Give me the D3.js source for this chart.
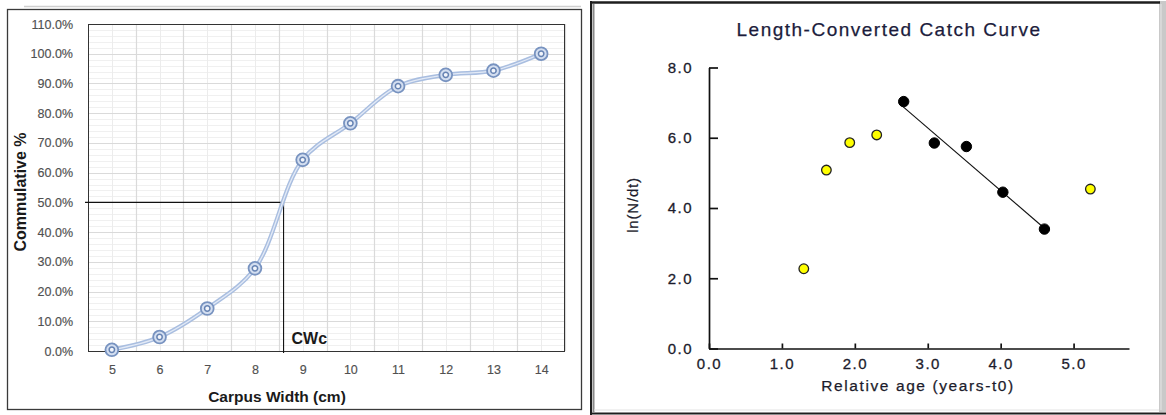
<!DOCTYPE html>
<html>
<head>
<meta charset="utf-8">
<script src="https://cdn.jsdelivr.net/npm/d3@7"></script>
<style>
  body { margin: 0; background: #fff; }
  svg { display: block; }
</style>
</head>
<body>
<svg width="1166" height="415"></svg>
<script>
// left chart: cumulative % by carpus width
let carpusWidths = [5, 6, 7, 8, 9, 10, 11, 12, 13, 14];
let cumulativePct = [0.004, 0.047, 0.143, 0.278, 0.643, 0.766, 0.891, 0.929, 0.943, 1.0];
let cwcValue = 8.6;
let leftYTicks = [0, 0.1, 0.2, 0.3, 0.4, 0.5, 0.6, 0.7, 0.8, 0.9, 1.0, 1.1];

// right chart: length-converted catch curve
let excludedAge = [1.30, 1.61, 1.93, 2.30, 5.23];
let excludedLnN = [2.27, 5.08, 5.86, 6.08, 4.54];
let usedAge = [2.67, 3.09, 3.53, 4.03, 4.60];
let usedLnN = [7.03, 5.85, 5.75, 4.45, 3.40];
let fitAge = [2.64, 4.58];
let fitLnN = [6.92, 3.46];
let rightXTicks = [0, 1, 2, 3, 4, 5];
let rightYTicks = [0, 2, 4, 6, 8];

let svg = d3.select("svg");

// ---------- frames ----------
function drawFrames() {
    let g = svg.append("g");
    // left panel
    g.append("line").attr("x1", 24).attr("x2", 581).attr("y1", 6.5).attr("y2", 6.5)
        .attr("stroke", "#cfcfcf").attr("stroke-width", 1.5);
    g.append("rect").attr("x", 7.5).attr("y", 9.5).attr("width", 574).attr("height", 400)
        .attr("fill", "#fff").attr("stroke", "#3a3a3a").attr("stroke-width", 1.3);

    // right panel
    g.append("rect").attr("x", 1159).attr("y", 1).attr("width", 7).attr("height", 411).attr("fill", "#c9c9c9");
    g.append("line").attr("x1", 1161).attr("x2", 1161).attr("y1", 4).attr("y2", 410)
        .attr("stroke", "#e6e6e6").attr("stroke-width", 1);
    g.append("line").attr("x1", 590).attr("x2", 1160).attr("y1", 2.5).attr("y2", 2.5)
        .attr("stroke", "#1e1e1e").attr("stroke-width", 2.5);
    g.append("line").attr("x1", 591).attr("x2", 591).attr("y1", 1).attr("y2", 415)
        .attr("stroke", "#1e1e1e").attr("stroke-width", 2);
    g.append("line").attr("x1", 593.5).attr("x2", 593.5).attr("y1", 4).attr("y2", 412)
        .attr("stroke", "#8a8a8a").attr("stroke-width", 2);
    g.append("line").attr("x1", 594).attr("x2", 1159).attr("y1", 410).attr("y2", 410)
        .attr("stroke", "#e2e2e2").attr("stroke-width", 1);
    g.append("line").attr("x1", 590).attr("x2", 1166).attr("y1", 413.5).attr("y2", 413.5)
        .attr("stroke", "#1e1e1e").attr("stroke-width", 2);
}

// ---------- left chart ----------
function drawLeft() {
    let x = d3.scaleLinear().domain([4.5, 14.5]).range([88, 565]);
    let y = d3.scaleLinear().domain([0, 1.1]).range([351, 24]);
    let g = svg.append("g").attr("font-family", "'Liberation Sans', Arial, sans-serif");

    // minor grid
    g.append("g").selectAll("line")
        .data(d3.range(0, 1.1001, 0.02))
        .enter().append("line")
        .attr("x1", 88).attr("x2", 565)
        .attr("y1", d => Math.round(y(d)) + 0.5).attr("y2", d => Math.round(y(d)) + 0.5)
        .attr("stroke", "#f0f0f0");
    g.append("g").selectAll("line")
        .data(carpusWidths)
        .enter().append("line")
        .attr("x1", d => Math.round(x(d)) + 0.5).attr("x2", d => Math.round(x(d)) + 0.5)
        .attr("y1", 24).attr("y2", 351)
        .attr("stroke", "#ececec");
    // major grid
    g.append("g").selectAll("line")
        .data(leftYTicks)
        .enter().append("line")
        .attr("x1", 88).attr("x2", 565)
        .attr("y1", d => Math.round(y(d)) + 0.5).attr("y2", d => Math.round(y(d)) + 0.5)
        .attr("stroke", "#dadada").attr("stroke-width", 1.2);
    g.append("g").selectAll("line")
        .data(carpusWidths.map(d => d + 0.5))
        .enter().append("line")
        .attr("x1", d => Math.round(x(d)) + 0.5).attr("x2", d => Math.round(x(d)) + 0.5)
        .attr("y1", 24).attr("y2", 351)
        .attr("stroke", "#dadada").attr("stroke-width", 1.2);

    // plot frame
    g.append("rect").attr("x", 88.5).attr("y", 24.5).attr("width", 476).attr("height", 327)
        .attr("fill", "none").attr("stroke", "#333").attr("stroke-width", 1);

    // axes (labels only)
    let yAxis = g.append("g").attr("transform", "translate(88,0)")
        .call(d3.axisLeft(y).tickValues(leftYTicks).tickFormat(d3.format(".1%")).tickSize(0).tickPadding(15));
    yAxis.select(".domain").remove();
    yAxis.selectAll("text").attr("font-size", 12.5).attr("fill", "#505050")
        .attr("stroke", "#505050").attr("stroke-width", 0.15)
        .attr("font-family", "'Liberation Sans', Arial, sans-serif");

    let xAxis = g.append("g").attr("transform", "translate(0,351)")
        .call(d3.axisBottom(x).tickValues(carpusWidths).tickSize(0).tickPadding(14));
    xAxis.select(".domain").remove();
    xAxis.selectAll("text").attr("font-size", 12.5).attr("fill", "#505050")
        .attr("stroke", "#505050").attr("stroke-width", 0.15)
        .attr("font-family", "'Liberation Sans', Arial, sans-serif");

    // CWc guide
    g.append("path")
        .attr("d", "M85," + y(0.5) + "H" + x(cwcValue) + "V353")
        .attr("fill", "none").attr("stroke", "#111").attr("stroke-width", 1.1);
    g.append("text").attr("x", x(cwcValue) + 8).attr("y", 344)
        .attr("font-size", 16).attr("font-weight", "bold").attr("fill", "#1a1a1a").text("CWc");

    // smoothed line
    let pts = carpusWidths.map((w, i) => [x(w), y(cumulativePct[i])]);
    let line = d3.line().curve(d3.curveCatmullRom.alpha(0.5));
    g.append("path").attr("d", line(pts)).attr("fill", "none")
        .attr("stroke", "#a9bee0").attr("stroke-width", 4.2);
    g.append("path").attr("d", line(pts)).attr("fill", "none")
        .attr("stroke", "#e3eaf6").attr("stroke-width", 1.3);

    // markers
    let m = g.append("g").selectAll("g").data(pts).enter().append("g")
        .attr("transform", d => "translate(" + d[0] + "," + d[1] + ")");
    m.append("circle").attr("r", 6.4).attr("fill", "#d3def0").attr("stroke", "#7893c0").attr("stroke-width", 1.8);
    m.append("circle").attr("r", 2.7).attr("fill", "#f2f5fb").attr("stroke", "#6683b3").attr("stroke-width", 1.5);

    // axis titles
    g.append("text").attr("transform", "translate(26,192) rotate(-90)")
        .attr("text-anchor", "middle").attr("font-size", 16).attr("font-weight", "bold")
        .attr("fill", "#1a1a1a").text("Commulative %");
    g.append("text").attr("x", 277).attr("y", 402)
        .attr("text-anchor", "middle").attr("font-size", 15.5).attr("font-weight", "bold")
        .attr("fill", "#1a1a1a").text("Carpus Width (cm)");
}

// ---------- right chart ----------
function drawRight() {
    let x = d3.scaleLinear().domain([0, 5.76]).range([709, 1129]);
    let y = d3.scaleLinear().domain([0, 8]).range([348.5, 67.5]);
    let g = svg.append("g").attr("font-family", "'Liberation Sans', Arial, sans-serif");

    let yAxis = g.append("g").attr("transform", "translate(709,0)")
        .call(d3.axisLeft(y).tickValues(rightYTicks).tickFormat(d3.format(".1f"))
            .tickSizeInner(-9).tickSizeOuter(0).tickPadding(16));
    let xAxis = g.append("g").attr("transform", "translate(0,348.5)")
        .call(d3.axisBottom(x).tickValues(rightXTicks).tickFormat(d3.format(".1f"))
            .tickSizeInner(-5).tickSizeOuter(0).tickPadding(10));
    [yAxis, xAxis].forEach(a => {
        a.select(".domain").attr("stroke", "#111").attr("stroke-width", 1.7);
        a.selectAll(".tick line").attr("stroke", "#111").attr("stroke-width", 1.7);
        a.selectAll("text").attr("font-size", 15).attr("fill", "#1c1c2c")
            .attr("stroke", "#1c1c2c").attr("stroke-width", 0.3)
            .attr("letter-spacing", 1.5).attr("font-family", "'Liberation Sans', Arial, sans-serif");
    });

    // fit line
    g.append("line")
        .attr("x1", x(fitAge[0])).attr("y1", y(fitLnN[0]))
        .attr("x2", x(fitAge[1])).attr("y2", y(fitLnN[1]))
        .attr("stroke", "#111").attr("stroke-width", 1.1);

    g.append("g").selectAll("circle")
        .data(excludedAge.map((a, i) => [a, excludedLnN[i]]))
        .enter().append("circle")
        .attr("cx", d => x(d[0])).attr("cy", d => y(d[1])).attr("r", 4.8)
        .attr("fill", "#ffff00").attr("stroke", "#222").attr("stroke-width", 1.3);
    g.append("g").selectAll("circle")
        .data(usedAge.map((a, i) => [a, usedLnN[i]]))
        .enter().append("circle")
        .attr("cx", d => x(d[0])).attr("cy", d => y(d[1])).attr("r", 5.2)
        .attr("fill", "#000").attr("stroke", "#000").attr("stroke-width", 1);

    g.append("text").attr("x", 889).attr("y", 36).attr("text-anchor", "middle")
        .attr("font-size", 19).attr("letter-spacing", 1.5).attr("fill", "#1c1c3c")
        .attr("stroke", "#1c1c3c").attr("stroke-width", 0.25)
        .text("Length-Converted Catch Curve");
    g.append("text").attr("x", 918).attr("y", 391).attr("text-anchor", "middle")
        .attr("font-size", 15.5).attr("letter-spacing", 1.6).attr("fill", "#1c1c2c")
        .attr("stroke", "#1c1c2c").attr("stroke-width", 0.25)
        .text("Relative age (years-t0)");
    g.append("text").attr("transform", "translate(638,205) rotate(-90)")
        .attr("text-anchor", "middle").attr("font-size", 15).attr("letter-spacing", 0.8)
        .attr("fill", "#1c1c2c").attr("stroke", "#1c1c2c").attr("stroke-width", 0.2)
        .text("ln(N/dt)");
}

drawFrames();
drawLeft();
drawRight();
</script>
</body>
</html>
